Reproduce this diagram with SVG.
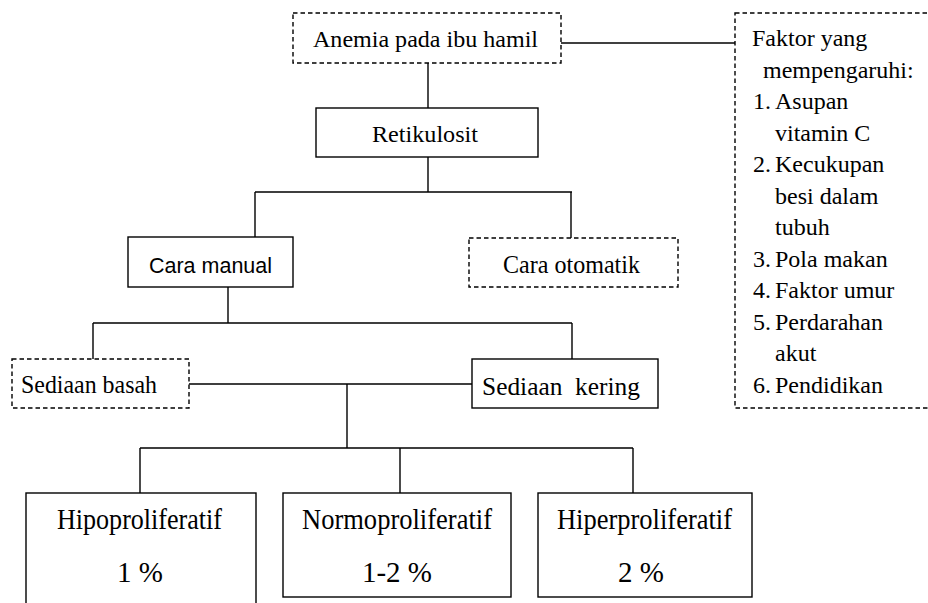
<svg xmlns="http://www.w3.org/2000/svg" width="928" height="603" viewBox="0 0 928 603">
<style>
.box{fill:#fff;stroke:#000;stroke-width:1.4}
.dash{fill:#fff;stroke:#000;stroke-width:1.4;stroke-dasharray:4.5 3}
.ln{fill:none;stroke:#000;stroke-width:1.4}
.t{font-family:"Liberation Serif","Times New Roman",serif;font-size:24px;fill:#000}
.tm{font-family:"Liberation Serif","Times New Roman",serif;font-size:25.5px;fill:#000}
.tb{font-family:"Liberation Serif","Times New Roman",serif;font-size:29px;fill:#000}
.ts{font-family:"Liberation Sans",Arial,sans-serif;font-size:22px;fill:#000}
</style>
<rect width="928" height="603" fill="#fff"/>
<g id="connectors">
<path class="ln" d="M561 43H735"/>
<path class="ln" d="M428 63V108"/>
<path class="ln" d="M428 157V192M255 192H572M255 192V237M571 192V238"/>
<path class="ln" d="M228 287V323M93 323H572M93 323V359M572 323V359"/>
<path class="ln" d="M189 384H472M347 384V448"/>
<path class="ln" d="M140 448H633M140 448V493M400 448V493M633 448V493"/>
</g>
<g id="anemia">
<rect class="dash" x="293" y="13" width="268" height="50"/>
<text class="t" x="313" y="47" textLength="225" lengthAdjust="spacingAndGlyphs">Anemia pada ibu hamil</text>
</g>
<g id="faktor">
<rect class="dash" x="735" y="13" width="210" height="395"/>
<text class="t">
<tspan x="752" y="46">Faktor yang</tspan>
<tspan x="763" y="77.5">mempengaruhi:</tspan>
<tspan x="753" y="109">1.</tspan><tspan x="775" y="109">Asupan</tspan>
<tspan x="775" y="140.5">vitamin C</tspan>
<tspan x="753" y="172">2.</tspan><tspan x="775" y="172">Kecukupan</tspan>
<tspan x="775" y="203.5">besi dalam</tspan>
<tspan x="775" y="235">tubuh</tspan>
<tspan x="753" y="266.5">3.</tspan><tspan x="775" y="266.5">Pola makan</tspan>
<tspan x="753" y="298">4.</tspan><tspan x="775" y="298">Faktor umur</tspan>
<tspan x="753" y="329.5">5.</tspan><tspan x="775" y="329.5">Perdarahan</tspan>
<tspan x="775" y="361">akut</tspan>
<tspan x="753" y="392.5">6.</tspan><tspan x="775" y="392.5">Pendidikan</tspan>
</text>
</g>
<g id="retikulosit">
<rect class="box" x="316" y="108" width="222" height="49"/>
<text class="t" x="372" y="142" textLength="106" lengthAdjust="spacingAndGlyphs">Retikulosit</text>
</g>
<g id="cara-manual">
<rect class="box" x="128" y="237" width="165" height="50"/>
<text class="ts" x="149" y="273" textLength="123" lengthAdjust="spacingAndGlyphs">Cara manual</text>
</g>
<g id="cara-otomatik">
<rect class="dash" x="469" y="238" width="209" height="49"/>
<text class="tm" x="503" y="273" textLength="137" lengthAdjust="spacingAndGlyphs">Cara otomatik</text>
</g>
<g id="sediaan-basah">
<rect class="dash" x="12" y="359" width="177" height="49"/>
<text class="tm" x="21" y="393" textLength="136" lengthAdjust="spacingAndGlyphs">Sediaan basah</text>
</g>
<g id="sediaan-kering">
<rect class="box" x="472" y="359" width="186" height="49"/>
<text class="tm" x="482" y="395" textLength="158" lengthAdjust="spacingAndGlyphs" style="white-space:pre">Sediaan  kering</text>
</g>
<g id="hipo">
<rect class="box" x="26" y="493" width="230" height="130"/>
<text class="tb" x="57" y="529" textLength="165" lengthAdjust="spacingAndGlyphs">Hipoproliferatif</text>
<text class="tb" x="140" y="582" text-anchor="middle">1 %</text>
</g>
<g id="normo">
<rect class="box" x="283" y="493" width="228" height="104"/>
<text class="tb" x="302" y="529" textLength="190" lengthAdjust="spacingAndGlyphs">Normoproliferatif</text>
<text class="tb" x="397" y="582" text-anchor="middle">1-2 %</text>
</g>
<g id="hiper">
<rect class="box" x="538" y="493" width="214" height="104"/>
<text class="tb" x="557" y="529" textLength="175" lengthAdjust="spacingAndGlyphs">Hiperproliferatif</text>
<text class="tb" x="641" y="582" text-anchor="middle">2 %</text>
</g>
</svg>
